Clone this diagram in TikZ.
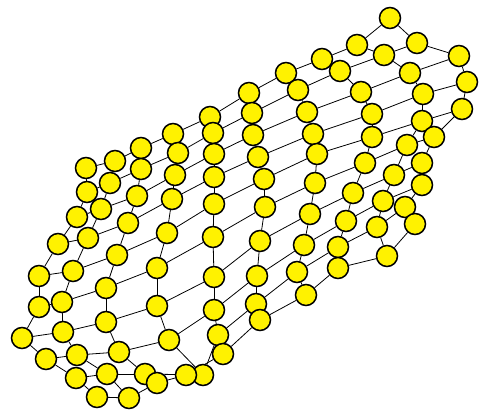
\documentclass[tikz,border=0pt]{standalone}
\usepackage{tikz}
\usetikzlibrary{backgrounds}

\begin{document}
\begin{tikzpicture}[x=1pt, y=-1pt,
    vertex/.style={circle, draw=black, line width=1.5pt, fill=yellow, minimum size=21pt, inner sep=0pt},
    link/.style={draw=black, line width=0.8pt}]
  \useasboundingbox (0,0) rectangle (479,412);
  % grid nodes, one row per entry, column 1 on the right
  \foreach \row [count=\r] in {
      {390/18, 357/45, 322/59, 286/73, 249/93, 210/117, 173/134, 141/148, 115/161, 86/168},
      {417/43, 384/55, 340/71, 298/90, 252/113, 213/133, 178/153, 141/169, 110/183, 87/192},
      {459/56, 410/73, 361/92, 307/112, 253/135, 214/154, 175/175, 137/196, 101/209, 77/217},
      {467/82, 423/94, 372/114, 313/134, 258/157, 214/177, 172/199, 128/223, 88/238, 58/244},
      {462/109, 422/121, 372/137, 317/154, 264/179, 214/204, 167/233, 117/255, 73/271, 39/276},
      {434/137, 407/145, 365/163, 315/183, 265/207, 213/237, 157/268, 106/288, 62/302, 39/307},
      {422/163, 394/175, 353/193, 310/214, 260/241, 214/277, 157/306, 106/322, 63/332, 22/338},
      {422/185, 383/201, 346/221, 304/245, 257/276, 214/310, 169/340, 119/352, 77/355, 46/359},
      {405/207, 377/227, 338/247, 297/272, 256/304, 218/335, 203/375, 145/374, 107/374, 76/378},
      {415/224, 387/256, 338/268, 306/295, 260/320, 223/354, 186/375, 157/383, 129/398, 97/397}} {
    \foreach \x/\y [count=\c] in \row {
      \node[vertex] (v\r-\c) at (\x,\y) {};
    }
  }
  % edges behind the nodes
  \begin{pgfonlayer}{background}
    \foreach \r in {1,...,10} {
      \foreach \c [evaluate=\c as \n using int(\c+1)] in {1,...,9} {
        \draw[link] (v\r-\c) -- (v\r-\n);
      }
    }
    \foreach \c in {1,...,10} {
      \foreach \r [evaluate=\r as \n using int(\r+1)] in {1,...,9} {
        \draw[link] (v\r-\c) -- (v\n-\c);
      }
    }
  \end{pgfonlayer}
\end{tikzpicture}
\end{document}
